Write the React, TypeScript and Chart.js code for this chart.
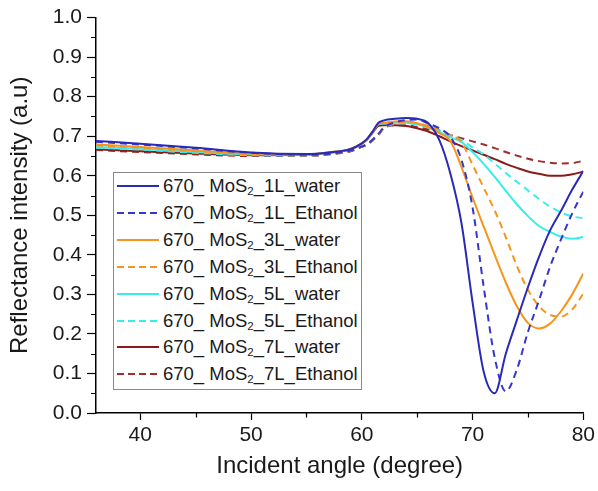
import React, { useEffect, useRef } from 'react';
import { Chart, registerables } from 'chart.js';
Chart.register(...registerables);

// Incident angles (degree) at which reflectance was read
const angles = [36, 40, 45, 50, 55, 57, 59, 60, 60.5, 61, 61.5, 62, 63, 64, 65, 66, 67, 68, 69, 70, 71, 72, 73, 74, 75, 76, 77, 78, 79, 80];

const mos1LWater = [0.688, 0.681, 0.671, 0.659, 0.655, 0.659, 0.668, 0.682, 0.694, 0.713, 0.734, 0.740, 0.744, 0.746, 0.744, 0.733, 0.690, 0.605, 0.480, 0.280, 0.105, 0.050, 0.150, 0.235, 0.318, 0.395, 0.462, 0.512, 0.565, 0.612];
const mos1LEthanol = [0.686, 0.679, 0.669, 0.658, 0.653, 0.655, 0.664, 0.674, 0.680, 0.692, 0.706, 0.722, 0.735, 0.741, 0.742, 0.732, 0.720, 0.698, 0.640, 0.520, 0.320, 0.140, 0.055, 0.110, 0.205, 0.285, 0.370, 0.440, 0.505, 0.560];
const mos3LWater = [0.679, 0.673, 0.664, 0.656, 0.654, 0.659, 0.668, 0.682, 0.694, 0.712, 0.731, 0.734, 0.737, 0.738, 0.733, 0.723, 0.708, 0.688, 0.622, 0.545, 0.472, 0.400, 0.330, 0.270, 0.228, 0.214, 0.226, 0.258, 0.300, 0.353];
const mos3LEthanol = [0.677, 0.671, 0.662, 0.654, 0.652, 0.655, 0.664, 0.674, 0.680, 0.692, 0.705, 0.722, 0.733, 0.736, 0.733, 0.726, 0.716, 0.703, 0.685, 0.628, 0.570, 0.512, 0.445, 0.372, 0.312, 0.270, 0.248, 0.244, 0.262, 0.302];
const mos5LWater = [0.673, 0.668, 0.660, 0.654, 0.654, 0.659, 0.668, 0.682, 0.694, 0.712, 0.730, 0.732, 0.734, 0.734, 0.730, 0.722, 0.710, 0.697, 0.685, 0.660, 0.630, 0.597, 0.562, 0.528, 0.498, 0.473, 0.458, 0.446, 0.441, 0.445];
const mos5LEthanol = [0.671, 0.666, 0.658, 0.652, 0.651, 0.655, 0.664, 0.674, 0.680, 0.692, 0.705, 0.721, 0.731, 0.733, 0.729, 0.723, 0.714, 0.703, 0.690, 0.672, 0.654, 0.631, 0.607, 0.585, 0.563, 0.541, 0.522, 0.507, 0.497, 0.493];
const mos7LWater = [0.667, 0.662, 0.656, 0.652, 0.653, 0.658, 0.667, 0.681, 0.692, 0.710, 0.726, 0.728, 0.728, 0.726, 0.720, 0.712, 0.700, 0.687, 0.675, 0.664, 0.653, 0.642, 0.630, 0.620, 0.611, 0.605, 0.600, 0.600, 0.604, 0.610];
const mos7LEthanol = [0.665, 0.660, 0.654, 0.650, 0.650, 0.654, 0.662, 0.673, 0.679, 0.690, 0.703, 0.720, 0.728, 0.728, 0.723, 0.717, 0.710, 0.703, 0.695, 0.687, 0.679, 0.670, 0.660, 0.651, 0.643, 0.637, 0.633, 0.631, 0.632, 0.638];

const seriesValues = [mos1LWater, mos1LEthanol, mos3LWater, mos3LEthanol, mos5LWater, mos5LEthanol, mos7LWater, mos7LEthanol];
const seriesLayers = ['1L', '1L', '3L', '3L', '5L', '5L', '7L', '7L'];
const seriesMedia = ['water', 'Ethanol', 'water', 'Ethanol', 'water', 'Ethanol', 'water', 'Ethanol'];
const seriesColors = ['#2a2ab8', '#3636cc', '#f7941d', '#f7941d', '#33eeee', '#33eeee', '#8b1a1a', '#a02c2c'];
const seriesDashed = [false, true, false, true, false, true, false, true];

const xTicks = [40, 50, 60, 70, 80];
const xMinorTicks = [45, 55, 65, 75];
const yTicks = [0, 0.1, 0.2, 0.3, 0.4, 0.5, 0.6, 0.7, 0.8, 0.9, 1.0];
const yMinorTicks = [0.05, 0.15, 0.25, 0.35, 0.45, 0.55, 0.65, 0.75, 0.85, 0.95];

const FONT = "'Liberation Sans', Arial, sans-serif";
const TEXT = '#1a1a1a';

const minorTickPlugin = {
  id: 'minorTicks',
  afterDraw(chart: any) {
    const { ctx, chartArea, scales } = chart;
    ctx.save();
    ctx.strokeStyle = '#000';
    ctx.lineWidth = 1.2;
    ctx.beginPath();
    xMinorTicks.forEach((v) => {
      const px = Math.round(scales.x.getPixelForValue(v)) + 0.5;
      ctx.moveTo(px, chartArea.bottom);
      ctx.lineTo(px, chartArea.bottom + 4.5);
    });
    yMinorTicks.forEach((v) => {
      const py = Math.round(scales.y.getPixelForValue(v)) + 0.5;
      ctx.moveTo(chartArea.left - 5, py);
      ctx.lineTo(chartArea.left, py);
    });
    ctx.stroke();
    ctx.restore();
  },
};

function LegendLabel({ layer, medium }: { layer: string; medium: string }) {
  return (
    <span>
      670_ MoS<sub style={{ fontSize: '0.62em', verticalAlign: '-0.3em', lineHeight: 0 }}>2</sub>_{layer}_{medium}
    </span>
  );
}

export default function App() {
  const canvasRef = useRef<HTMLCanvasElement | null>(null);

  useEffect(() => {
    if (!canvasRef.current) return;
    const datasets = seriesValues.map((vals, i) => ({
      label: `670_ MoS₂_${seriesLayers[i]}_${seriesMedia[i]}`,
      data: angles.map((a, j) => ({ x: a, y: vals[j] })),
      borderColor: seriesColors[i],
      backgroundColor: seriesColors[i],
      borderWidth: 2,
      borderDash: seriesDashed[i] ? [7, 5] : [],
      pointRadius: 0,
      fill: false,
      cubicInterpolationMode: 'monotone' as const,
    }));
    const chart = new Chart(canvasRef.current, {
      type: 'line',
      data: { datasets },
      plugins: [minorTickPlugin],
      options: {
        animation: false,
        responsive: false,
        maintainAspectRatio: false,
        layout: { padding: { top: 17, right: 11, left: 0, bottom: 0 } },
        plugins: { legend: { display: false }, tooltip: { enabled: false } },
        scales: {
          x: {
            type: 'linear',
            min: 36,
            max: 80,
            afterBuildTicks: (axis: any) => {
              axis.ticks = xTicks.map((v) => ({ value: v }));
            },
            afterFit: (scale: any) => {
              scale.height = 78;
            },
            ticks: {
              font: { family: FONT, size: 21 },
              color: TEXT,
              padding: 3,
              maxRotation: 0,
            },
            grid: {
              display: true,
              drawOnChartArea: false,
              drawTicks: true,
              tickLength: 7,
              tickColor: '#000',
              tickWidth: 1.2,
            },
            border: { display: true, color: '#000', width: 1.5 },
            title: {
              display: true,
              text: 'Incident angle (degree)',
              font: { family: FONT, size: 24 },
              color: TEXT,
              padding: { top: 0, bottom: 10 },
            },
          },
          y: {
            type: 'linear',
            min: 0,
            max: 1,
            afterBuildTicks: (axis: any) => {
              axis.ticks = yTicks.map((v) => ({ value: v }));
            },
            afterFit: (scale: any) => {
              scale.width = 96;
            },
            ticks: {
              font: { family: FONT, size: 21 },
              color: TEXT,
              padding: 5,
              callback: (v: any) => Number(v).toFixed(1),
            },
            grid: {
              display: true,
              drawOnChartArea: false,
              drawTicks: true,
              tickLength: 9,
              tickColor: '#000',
              tickWidth: 1.2,
            },
            border: { display: true, color: '#000', width: 1.5 },
            title: {
              display: true,
              text: 'Reflectance intensity (a.u)',
              font: { family: FONT, size: 24 },
              color: TEXT,
              padding: { top: 6, bottom: 0 },
            },
          },
        },
      },
    });
    return () => chart.destroy();
  }, []);

  const boxLeft = 113;
  const boxTop = 172;
  const rowCenter0 = 13;
  const rowGap = 26.9;
  const rowH = 24;

  return (
    <div style={{ position: 'fixed', left: 0, top: 0, width: 598, height: 491, background: '#fff' }}>
      <canvas ref={canvasRef} width={598} height={491} style={{ display: 'block', width: 598, height: 491 }} />
      <div
        style={{
          position: 'absolute',
          left: boxLeft,
          top: boxTop,
          width: 249,
          height: 218,
          boxSizing: 'border-box',
          border: '1px solid #8a8a8a',
          background: '#fff',
          fontFamily: FONT,
          fontSize: 18.5,
          color: TEXT,
        }}
      >
        {seriesValues.map((_, i) => (
          <div
            key={i}
            style={{
              position: 'absolute',
              left: 0,
              top: rowCenter0 + i * rowGap - rowH / 2,
              height: rowH,
              lineHeight: `${rowH}px`,
              whiteSpace: 'nowrap',
              width: 247,
            }}
          >
            <svg width={42} height={rowH} style={{ position: 'absolute', left: 3, top: 0 }}>
              <line
                x1={0}
                y1={rowH / 2}
                x2={42}
                y2={rowH / 2}
                stroke={seriesColors[i]}
                strokeWidth={2}
                strokeDasharray={seriesDashed[i] ? '7 4' : undefined}
              />
            </svg>
            <div style={{ position: 'absolute', left: 49, top: 0 }}>
              <LegendLabel layer={seriesLayers[i]} medium={seriesMedia[i]} />
            </div>
          </div>
        ))}
      </div>
    </div>
  );
}
